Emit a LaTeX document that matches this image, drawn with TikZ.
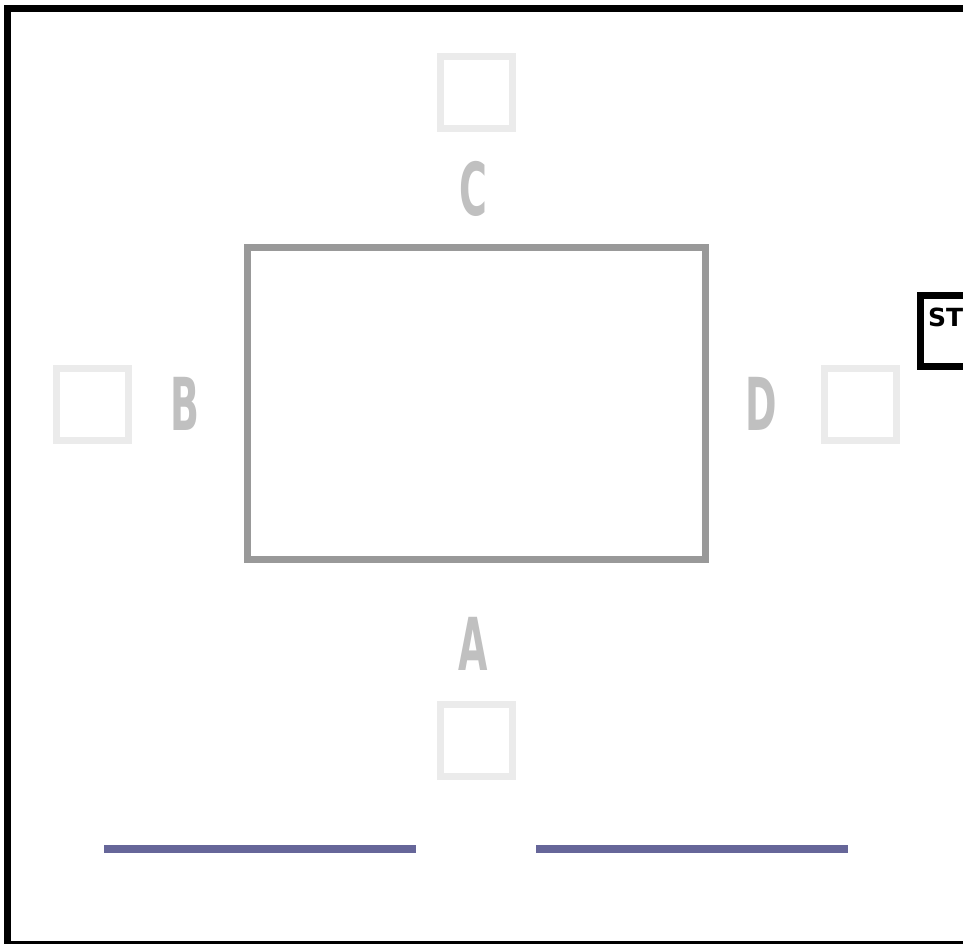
\documentclass[tikz,border=0pt]{standalone}
\usepackage{fontspec}
\newfontfamily\letterfont{DejaVu Sans Bold}
\newfontfamily\labelfont{DejaVu Sans Bold}
\definecolor{framegray}{HTML}{999999}
\definecolor{lightsq}{HTML}{EBEBEB}
\definecolor{lettergray}{HTML}{C0C0C0}
\definecolor{barblue}{HTML}{666699}
\begin{document}
\begin{tikzpicture}[x=1pt,y=-1pt,
  sq/.style={draw=lightsq,line width=7pt,minimum width=72pt,minimum height=72pt,inner sep=0pt},
  letter/.style={text=lettergray,font=\letterfont\fontsize{73}{73}\selectfont,inner sep=0pt,xscale=0.52},
  bar/.style={draw=barblue,line width=8pt}]
\useasboundingbox (0,0) rectangle (963,943);
\clip (0,0) rectangle (963,943);
\fill[white] (0,0) rectangle (963,943);
% outer frame
\draw[black,line width=7pt] (7.5,8.5) rectangle (1000,944.5);
% central rectangle
\draw[framegray,line width=7pt] (247.5,247.5) rectangle (705.5,559.5);
% small squares
\node[sq] (sqC) at (476,92) {};
\node[sq] (sqB) at (92,404) {};
\node[sq] (sqD) at (860,404) {};
\node[sq] (sqA) at (476,740) {};
% letters
\node[letter] (lC) at (473,188.5) {C};
\node[letter] (lB) at (185,404) {B};
\node[letter] (lD) at (761,403.5) {D};
\node[letter] (lA) at (473,643.5) {A};
% ST box
\draw[black,line width=7pt] (1000,295.5) -- (920.5,295.5) -- (920.5,366.5) -- (1000,366.5);
\node[anchor=base west,inner sep=0pt,font=\labelfont\fontsize{25}{25}\selectfont] (st) at (928,326) {ST};
% bars
\coordinate (b1s) at (104,848.5);
\coordinate (b1e) at (416,848.5);
\coordinate (b2s) at (536,848.5);
\coordinate (b2e) at (848,848.5);
\draw[bar] (b1s) -- (b1e);
\draw[bar] (b2s) -- (b2e);
\end{tikzpicture}
\end{document}
